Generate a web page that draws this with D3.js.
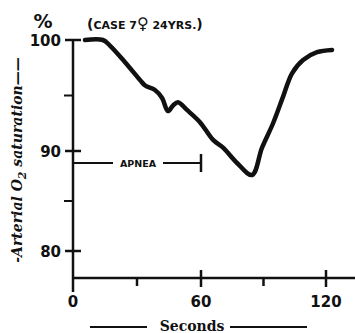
<!DOCTYPE html>
<html>
<head>
<meta charset="utf-8">
<script src="https://cdn.jsdelivr.net/npm/d3@7"></script>
<style>
  body { margin:0; background:#fff; }
  svg { display:block; }
</style>
</head>
<body>
<div id="chart"></div>
<script>
// data
var seconds=[5.6,14,17.3,24.4,31.4,33.8,38.4,41.7,44.5,46.9,49.2,53.4,59.5,65.8,70.6,77.3,84.5,89.3,94.6,99.4,103.7,109,115.7,122.9];
var saturation=[100,100,99.5,98.0,96.4,95.9,95.5,94.8,93.6,94.1,94.4,93.7,92.6,91.0,90.3,88.8,87.6,90.3,92.5,94.9,97.0,98.2,98.9,99.1];
var yMajor=[80,90,100];
var yMinor=[85,95];
var xMajor=[0,60,120];
var xMinor=[30,90];
var apnea=[0,60];

var w=355, h=333;
var svg=d3.select("#chart").append("svg").attr("width",w).attr("height",h);

// hand drawn axes are not quite even, so piecewise scales
var x=d3.scaleLinear().domain([0,60,120]).range([73,201,326]);
var y=d3.scaleLinear().domain([80,90,100]).range([251,151,40]);

var ink="#111";
var axisY=278;

//y axis
svg.append("line")
   .attr("x1",x(0)).attr("x2",x(0))
   .attr("y1",y(100)).attr("y2",292)
   .style("stroke",ink).style("stroke-width",2.5);
svg.selectAll(".ymaj").data(yMajor).enter().append("line")
   .attr("x1",x(0)-8).attr("x2",x(0)+8)
   .attr("y1",function(d){return y(d);}).attr("y2",function(d){return y(d);})
   .style("stroke",ink).style("stroke-width",2.5);
svg.selectAll(".ymin").data(yMinor).enter().append("line")
   .attr("x1",x(0)-9).attr("x2",x(0))
   .attr("y1",function(d){return y(d);}).attr("y2",function(d){return y(d);})
   .style("stroke",ink).style("stroke-width",2);
svg.selectAll(".ylab").data(yMajor).enter().append("text")
   .attr("x",x(0)-12).attr("y",function(d){return y(d)+1;})
   .attr("text-anchor","end").attr("dominant-baseline","central")
   .style("font-family","DejaVu Sans").style("font-weight","bold").style("font-size","15px")
   .style("fill",ink)
   .text(function(d){return d;});

//x axis
svg.append("line")
   .attr("x1",x(0)).attr("x2",w)
   .attr("y1",axisY).attr("y2",axisY)
   .style("stroke",ink).style("stroke-width",2.5);
svg.selectAll(".xmaj").data(xMajor.filter(function(d){return d>0;})).enter().append("line")
   .attr("x1",function(d){return x(d);}).attr("x2",function(d){return x(d);})
   .attr("y1",axisY-8).attr("y2",axisY+9)
   .style("stroke",ink).style("stroke-width",2.5);
svg.selectAll(".xmin").data(xMinor).enter().append("line")
   .attr("x1",function(d){return x(d);}).attr("x2",function(d){return x(d);})
   .attr("y1",axisY).attr("y2",axisY+8)
   .style("stroke",ink).style("stroke-width",2.5);
svg.selectAll(".xlab").data(xMajor).enter().append("text")
   .attr("x",function(d){return x(d);}).attr("y",302)
   .attr("text-anchor","middle").attr("dominant-baseline","central")
   .style("font-family","DejaVu Sans").style("font-weight","bold").style("font-size","15px")
   .style("fill",ink)
   .text(function(d){return d;});

//x title with rules either side
svg.append("text")
   .attr("x",192).attr("y",331)
   .attr("text-anchor","middle")
   .style("font-family","DejaVu Serif").style("font-weight","bold").style("font-size","14px")
   .style("fill",ink)
   .text("Seconds");
svg.append("line").attr("x1",90).attr("x2",147).attr("y1",327).attr("y2",327)
   .style("stroke",ink).style("stroke-width",2);
svg.append("line").attr("x1",230).attr("x2",307).attr("y1",327).attr("y2",327)
   .style("stroke",ink).style("stroke-width",2);

//y title
var yt=svg.append("text")
   .attr("transform","translate(22,160)rotate(-90)")
   .attr("text-anchor","middle")
   .style("font-family","DejaVu Serif").style("font-style","italic").style("font-weight","bold")
   .style("font-size","14px").style("fill",ink);
yt.append("tspan").text("-Arterial O");
yt.append("tspan").attr("dy",4).style("font-size","11px").text("2");
yt.append("tspan").attr("dy",-4).text(" saturation\u2014\u2014");

//percent sign and case note
svg.append("text")
   .attr("x",43).attr("y",28).attr("text-anchor","middle")
   .style("font-family","DejaVu Sans").style("font-weight","bold").style("font-size","19px")
   .style("fill",ink).text("%");
var note=svg.append("text")
   .attr("x",87).attr("y",29)
   .style("font-family","DejaVu Sans").style("font-weight","bold").style("font-size","11px")
   .style("fill",ink);
note.append("tspan").style("font-size","14px").text("(");
note.append("tspan").text("CASE 7");
note.append("tspan").style("font-size","16px").text("\u2640");
note.append("tspan").text(" 24YRS.");
note.append("tspan").style("font-size","14px").text(")");

//apnea bar
var apY=163;
svg.append("line")
   .attr("x1",x(apnea[0])).attr("x2",x(apnea[1]))
   .attr("y1",apY).attr("y2",apY)
   .style("stroke",ink).style("stroke-width",2);
svg.append("line")
   .attr("x1",x(apnea[1])).attr("x2",x(apnea[1]))
   .attr("y1",apY-9).attr("y2",apY+9)
   .style("stroke",ink).style("stroke-width",2.5);
svg.append("rect")
   .attr("x",(x(apnea[0])+x(apnea[1]))/2-24).attr("y",apY-6)
   .attr("width",50).attr("height",12).style("fill","#fff");
svg.append("text")
   .attr("x",(x(apnea[0])+x(apnea[1]))/2+1).attr("y",apY)
   .attr("text-anchor","middle").attr("dominant-baseline","central")
   .style("font-family","DejaVu Sans").style("font-weight","bold").style("font-size","9.5px")
   .style("fill",ink).text("APNEA");

//saturation curve
var line=d3.line()
   .x(function(d,i){return x(seconds[i]);})
   .y(function(d){return y(d);})
   .curve(d3.curveCatmullRom);
svg.append("path")
   .datum(saturation)
   .attr("d",line)
   .style("fill","none")
   .style("stroke",ink)
   .style("stroke-width",4.5)
   .style("stroke-linecap","round")
   .style("stroke-linejoin","round");
</script>
</body>
</html>
